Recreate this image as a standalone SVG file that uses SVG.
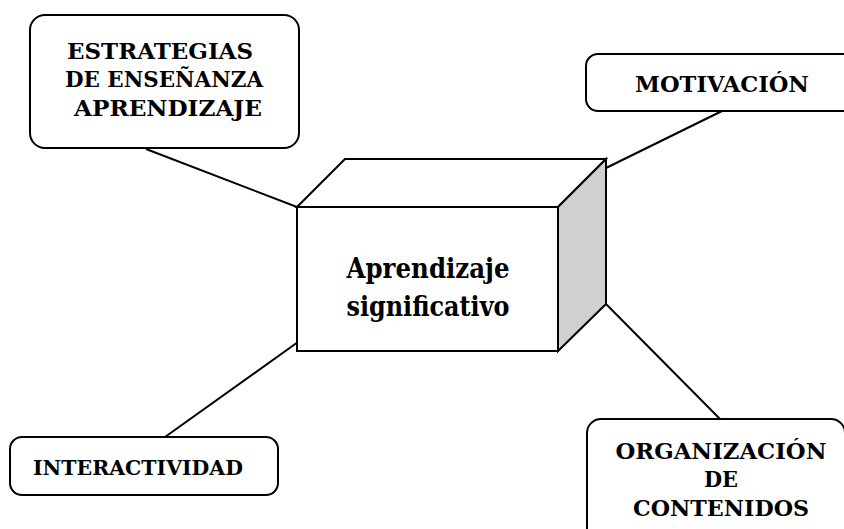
<svg xmlns="http://www.w3.org/2000/svg" width="844" height="529" viewBox="0 0 844 529">
<style>
.box{fill:#fff;stroke:#000;stroke-width:2}
.edge{stroke:#000;stroke-width:2;fill:none}
text{font-family:'DejaVu Serif','Liberation Serif',serif;font-weight:bold;fill:#000;text-anchor:middle}
.s26{font-size:23px}
.s24{font-size:21px}
.s31{font-size:28px}
</style>
<rect width="844" height="529" fill="#fff"/>
<g id="connectors">
<line class="edge" x1="146" y1="149" x2="297" y2="207"/>
<line class="edge" x1="722" y1="111" x2="606" y2="168"/>
<line class="edge" x1="165" y1="437" x2="298" y2="342"/>
<line class="edge" x1="606" y1="304" x2="720" y2="419"/>
</g>
<g id="node-aprendizaje">
<polygon points="297,207 345,159 606,159 558,207" fill="#fff" stroke="#000" stroke-width="2"/>
<polygon points="558,207 606,159 606,304 558,351" fill="#d0d0d0" stroke="#000" stroke-width="2"/>
<rect x="297" y="207" width="261" height="144" fill="#fff" stroke="#000" stroke-width="2"/>
<text class="s31" x="428" y="278" textLength="163" lengthAdjust="spacingAndGlyphs">Aprendizaje</text>
<text class="s31" x="428" y="316" textLength="163" lengthAdjust="spacingAndGlyphs">significativo</text>
</g>
<g id="node-estrategias">
<rect class="box" x="30" y="15" width="269" height="133" rx="15" ry="15"/>
<text class="s26" x="160" y="59" textLength="186" lengthAdjust="spacingAndGlyphs">ESTRATEGIAS</text>
<text class="s26" x="164" y="87" textLength="198" lengthAdjust="spacingAndGlyphs">DE ENSEÑANZA</text>
<text class="s26" x="168" y="116" textLength="188" lengthAdjust="spacingAndGlyphs">APRENDIZAJE</text>
</g>
<g id="node-motivacion">
<rect class="box" x="586" y="54" width="270" height="57" rx="12" ry="12"/>
<text class="s26" x="722" y="92" textLength="174" lengthAdjust="spacingAndGlyphs">MOTIVACIÓN</text>
</g>
<g id="node-interactividad">
<rect class="box" x="10" y="437" width="268" height="58" rx="12" ry="12"/>
<text class="s24" x="138" y="475" textLength="210" lengthAdjust="spacingAndGlyphs">INTERACTIVIDAD</text>
</g>
<g id="node-organizacion">
<rect class="box" x="587" y="419" width="258" height="130" rx="14" ry="14"/>
<text class="s26" x="721" y="459" textLength="211" lengthAdjust="spacingAndGlyphs">ORGANIZACIÓN</text>
<text class="s26" x="721" y="487" textLength="34" lengthAdjust="spacingAndGlyphs">DE</text>
<text class="s26" x="721" y="516" textLength="176" lengthAdjust="spacingAndGlyphs">CONTENIDOS</text>
</g>
</svg>
